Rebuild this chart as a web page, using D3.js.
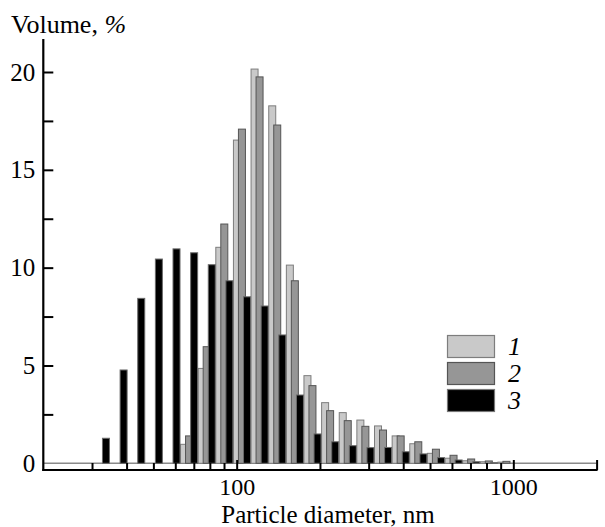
<!DOCTYPE html>
<html>
<head>
<meta charset="utf-8">
<script src="https://cdn.jsdelivr.net/npm/d3@7"></script>
<style>
  body { margin: 0; background: #fff; }
</style>
</head>
<body>
<svg id="chart" width="605" height="527"></svg>
<script>
// size classes, nm
var bins = [32.67, 37.84, 43.82, 50.75, 58.77, 68.06, 78.82, 91.28, 105.7, 122.4, 141.8, 164.2,
            190.1, 220.2, 255.0, 295.3, 342.0, 396.1, 458.7, 531.2, 615.1, 712.4, 825.0, 955.4];
// volume, % for samples 1, 2, 3
var vol1 = [0, 0, 0, 0, 0, 0.97, 4.85, 11.04, 16.52, 20.15, 18.27, 10.13,
            4.48, 3.10, 2.59, 2.21, 1.91, 1.40, 1.00, 0.51, 0.26, 0.13, 0.08, 0.06];
var vol2 = [0, 0, 0, 0, 0, 1.40, 5.96, 12.23, 17.08, 19.75, 17.29, 9.33,
            3.97, 2.69, 2.18, 1.89, 1.70, 1.40, 1.10, 0.72, 0.41, 0.22, 0.12, 0.10];
var vol3 = [1.28, 4.77, 8.43, 10.44, 10.96, 10.76, 10.15, 9.33, 8.51, 8.04, 6.56, 3.49,
            1.50, 1.10, 0.90, 0.80, 0.81, 0.59, 0.48, 0.29, 0.17, 0.08, 0.03, 0];
var seriesNames = ["1", "2", "3"];
var xMajor = [100, 1000, 2000];
var xMinor = [30, 40, 50, 60, 70, 80, 90, 200, 300, 400, 500, 600, 700, 800, 900];
var yTicks = [2.5, 5, 7.5, 10, 12.5, 15, 17.5, 20];
var yLabels = [0, 5, 10, 15, 20];

var serif = "'Liberation Serif', 'Times New Roman', Times, 'DejaVu Serif', serif";

var svg = d3.select("#chart");

var x = d3.scaleLog().domain([20, 2000]).range([43.3, 596.6]);
var y = d3.scaleLinear().domain([0, 20]).range([463.3, 72]);
var axisY = 470;   // x axis line sits a bit below zero

var fills = ["#c9c9c9", "#969696", "#000000"];
var strokes = ["#7d7d7d", "#555555", "#6a6a6a"];
var offsets = [-6.4, -1.4, 3.7];
var barW = 7;

// zero line
svg.append("line")
    .attr("x1", x.range()[0]).attr("x2", x.range()[1])
    .attr("y1", y(0)).attr("y2", y(0))
    .attr("stroke", "#8a8a8a").attr("stroke-width", 1.5);

// bars
var all = [vol1, vol2, vol3];
all.forEach(function(vals, s) {
    var data = bins.map(function(b, i) { return {d: b, v: vals[i]}; })
                   .filter(function(d) { return d.v > 0; });
    svg.append("g").selectAll("rect")
        .data(data)
        .enter()
        .append("rect")
            .attr("x", function(d) { return x(d.d) + offsets[s] - barW / 2; })
            .attr("y", function(d) { return y(d.v); })
            .attr("width", barW)
            .attr("height", function(d) { return y(0) - y(d.v); })
            .style("fill", fills[s])
            .style("stroke", strokes[s])
            .style("stroke-width", 1);
});

// x axis
var gx = svg.append("g").attr("transform", "translate(0," + axisY + ")");
gx.append("g")
    .call(d3.axisBottom(x).tickValues(xMinor).tickSize(-7).tickFormat(""))
    .call(function(g) { g.select(".domain").remove(); });
gx.append("g")
    .call(d3.axisBottom(x).tickValues(xMajor).tickSize(-10).tickPadding(8)
          .tickFormat(function(d) { return d === 2000 ? "" : d; }))
    .call(function(g) { g.select(".domain").remove(); });
gx.selectAll("g").attr("font-family", serif).attr("font-size", 24);
gx.selectAll("line").attr("stroke", "#000").attr("stroke-width", 2);
gx.append("line")
    .attr("x1", x.range()[0] - 1).attr("x2", x.range()[1] + 1)
    .attr("stroke", "#000").attr("stroke-width", 2.2);

// y axis
var gy = svg.append("g").attr("transform", "translate(" + x.range()[0] + ",0)");
gy.append("g")
    .call(d3.axisLeft(y).tickValues(yTicks).tickSize(-10).tickFormat(""))
    .call(function(g) { g.select(".domain").remove(); });
gy.append("g")
    .call(d3.axisLeft(y).tickValues(yLabels).tickSize(0).tickPadding(8))
    .call(function(g) { g.select(".domain").remove(); });
gy.selectAll("g").attr("font-family", serif).attr("font-size", 25);
gy.selectAll("line").attr("stroke", "#000").attr("stroke-width", 2);
gy.append("line")
    .attr("y1", 39).attr("y2", axisY + 1)
    .attr("stroke", "#000").attr("stroke-width", 2.2);

// axis titles
var yt = svg.append("text")
    .attr("x", 11).attr("y", 33)
    .attr("font-family", serif)
    .attr("font-size", 26);
yt.append("tspan").text("Volume, ");
yt.append("tspan").attr("font-style", "italic").text("%");

svg.append("text")
    .attr("x", 328).attr("y", 523)
    .attr("text-anchor", "middle")
    .attr("font-family", serif)
    .attr("font-size", 25)
    .text("Particle diameter, nm");

// legend
var leg = svg.append("g").attr("transform", "translate(447,335)");
seriesNames.forEach(function(name, i) {
    leg.append("rect")
        .attr("x", 0.5).attr("y", i * 27 + 0.5)
        .attr("width", 47).attr("height", 22)
        .style("fill", fills[i])
        .style("stroke", i === 2 ? "#777" : strokes[i])
        .style("stroke-width", 1.2);
    leg.append("text")
        .attr("x", 61).attr("y", i * 27 + 11)
        .attr("dy", "0.35em")
        .attr("font-family", serif)
        .attr("font-size", 26)
        .attr("font-style", "italic")
        .text(name);
});
</script>
</body>
</html>
